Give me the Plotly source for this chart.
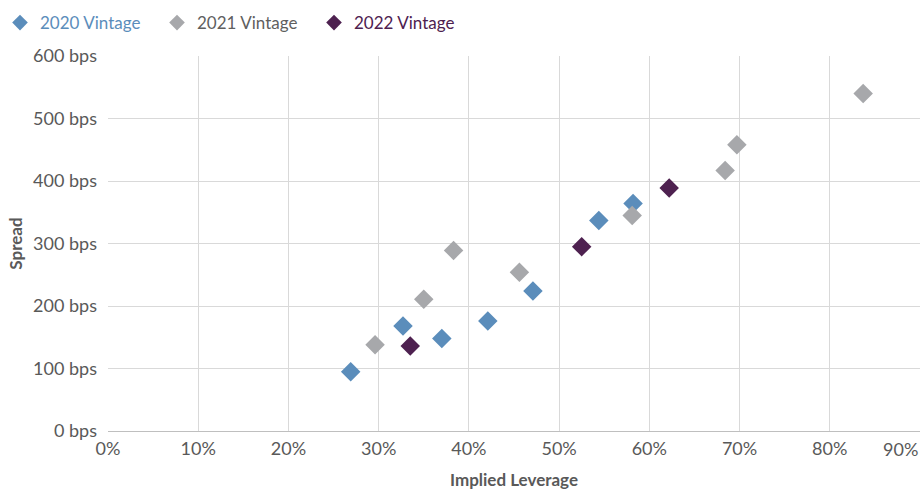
import plotly.graph_objects as go

# Data (Implied leverage in %, spread in bps)
lev_2020 = [26.9, 32.7, 37.0, 42.1, 47.1, 54.4, 58.2]
spr_2020 = [95, 168, 148, 176, 224, 337, 364]

lev_2021 = [29.6, 35.0, 38.3, 45.6, 58.1, 68.4, 69.7, 83.7]
spr_2021 = [138, 211, 289, 254, 345, 417, 458, 540]

lev_2022 = [33.5, 52.5, 62.2]
spr_2022 = [136, 295, 389]

x_ticks = [0, 10, 20, 30, 40, 50, 60, 70, 80, 90]
x_labels = ["0%", "10%", "20%", "30%", "40%", "50%", "60%", "70%", "80%", "90%"]
y_ticks = [0, 100, 200, 300, 400, 500, 600]
y_labels = [f"{v} bps" for v in y_ticks]

series_names = ["2020 Vintage", "2021 Vintage", "2022 Vintage"]
C20 = "#5B8DBB"
C21 = "#A7A8AB"
C22 = "#4E2150"
LEGEND_TEXT = ["#5B8DBB", "#5F5F5F", "#4E2150"]
FONT = "Lato, Liberation Sans, sans-serif"

fig = go.Figure()
for name, xs, ys, c, tc in [(series_names[0], lev_2020, spr_2020, C20, LEGEND_TEXT[0]),
                            (series_names[1], lev_2021, spr_2021, C21, LEGEND_TEXT[1]),
                            (series_names[2], lev_2022, spr_2022, C22, LEGEND_TEXT[2])]:
    fig.add_trace(go.Scatter(
        x=xs, y=ys, mode="markers",
        name=f"<span style='color:{tc}'>{name}</span>",
        marker=dict(symbol="diamond", size=15, color=c, line=dict(width=0)),
    ))

# last tick label is right-aligned at the plot edge (as in the original)
shown_labels = x_labels[:-1] + [""]
fig.add_annotation(x=x_ticks[-1], y=0, xref="x", yref="y", text=x_labels[-1],
                   showarrow=False, xanchor="right", yanchor="top", yshift=-5,
                   font=dict(family=FONT, size=18, color="#595959"))

fig.update_layout(
    width=922, height=490,
    margin=dict(l=108, r=2, t=56, b=59, autoexpand=False),
    paper_bgcolor="white", plot_bgcolor="white",
    font=dict(family=FONT, size=18, color="#595959"),
    showlegend=True,
    legend=dict(orientation="h", xref="container", yref="container",
                x=-0.003, y=0.953, xanchor="left", yanchor="middle",
                itemsizing="constant", entrywidth=112, entrywidthmode="pixels",
                font=dict(size=17), itemclick=False, bgcolor="rgba(0,0,0,0)"),
    xaxis=dict(range=[0, 90], tickvals=x_ticks, ticktext=shown_labels,
               showgrid=True, gridcolor="#D9D9D9", gridwidth=1, automargin=False,
               zeroline=False, showline=True, linecolor="#BFBFBF", linewidth=1,
               ticks="", ticklabelstandoff=1,
               title=dict(text="<b>Implied Leverage</b>", standoff=17,
                          font=dict(size=17, color="#595959"))),
    yaxis=dict(range=[0, 600], tickvals=y_ticks, ticktext=y_labels,
               showgrid=True, gridcolor="#D9D9D9", gridwidth=1, automargin=False,
               zeroline=False, showline=False, ticks="", ticklabelstandoff=10,
               title=dict(text="<b>Spread</b>", standoff=6,
                          font=dict(size=17, color="#595959"))),
)

fig.write_html("out.html")
